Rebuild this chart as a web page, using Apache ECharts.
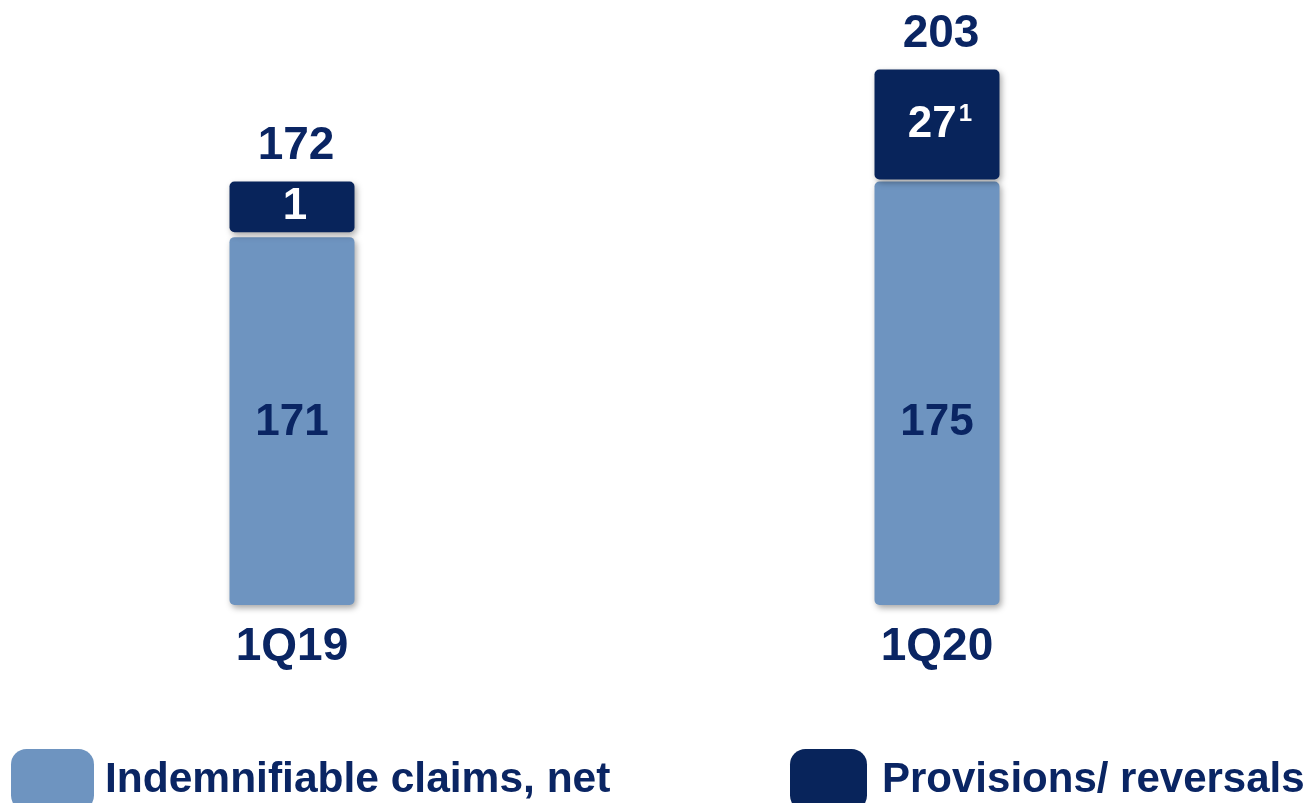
<!DOCTYPE html>
<html>
<head>
<meta charset="utf-8">
<script src="https://cdn.jsdelivr.net/npm/echarts@6/dist/echarts.min.js"></script>
<style>
  html, body { margin: 0; padding: 0; background: #ffffff; }
  #chart { width: 1316px; height: 803px; }
</style>
</head>
<body>
<div id="chart"></div>
<script>
// ---- data ----
const categories = ['1Q19', '1Q20'];
const seriesNames = ['Indemnifiable claims, net', 'Provisions/ reversals'];
// printed values
const claimsValues = [171, 175];
const provisionsValues = [1, 27];
const totalValues = [172, 203];
const provisionsFootnote = ['', '1'];
// segment lengths as drawn in the source slide (the slide is not to scale)
const claimsDrawn = [152, 175];
const provisionsDrawn = [21, 45.5];

// ---- styling ----
const FONT = 'Liberation Sans, Arial, sans-serif';
const TEXT = '#0a2563';
const LIGHT = '#6e94c0';
const DARK = '#08245b';
const GAP = [2, 0.8]; // white gap between stacked segments (axis units)

const shadow = {
  shadowColor: 'rgba(0,0,0,0.35)',
  shadowBlur: 6,
  shadowOffsetX: 2,
  shadowOffsetY: 3
};

const chart = echarts.init(document.getElementById('chart'), null, { renderer: 'canvas' });

const option = {
  animation: false,
  backgroundColor: '#ffffff',
  grid: { left: 292, right: 379, top: 0, bottom: 198, containLabel: false },
  xAxis: {
    type: 'category',
    data: categories,
    boundaryGap: false,
    axisLine: { show: false },
    axisTick: { show: false },
    splitLine: { show: false },
    axisLabel: {
      margin: 19,
      fontFamily: FONT,
      fontWeight: 'bold',
      fontSize: 46,
      lineHeight: 46,
      color: TEXT
    }
  },
  yAxis: {
    type: 'value',
    min: 0,
    max: 250,
    show: false,
    splitLine: { show: false }
  },
  legend: [
    {
      data: [seriesNames[0]],
      left: 11,
      top: 749,
      padding: 0,
      icon: 'roundRect',
      itemWidth: 83,
      itemHeight: 62,
      textStyle: {
        fontFamily: FONT,
        fontWeight: 'bold',
        fontSize: 42.5,
        color: TEXT,
        padding: [0, 0, 0, 6]
      },
      selectedMode: false
    },
    {
      data: [seriesNames[1]],
      left: 790,
      top: 749,
      padding: 0,
      icon: 'roundRect',
      itemWidth: 77,
      itemHeight: 62,
      textStyle: {
        fontFamily: FONT,
        fontWeight: 'bold',
        fontSize: 42,
        color: TEXT,
        padding: [0, 0, 0, 10]
      },
      selectedMode: false
    }
  ],
  series: [
    {
      name: seriesNames[0],
      type: 'bar',
      stack: 'total',
      barWidth: 125,
      clip: false,
      data: claimsDrawn.map((v, i) => ({ value: v, printed: claimsValues[i] })),
      itemStyle: Object.assign({ color: LIGHT, borderRadius: 5 }, shadow),
      label: {
        show: true,
        position: 'insideBottom',
        distance: 160,
        formatter: (p) => String(claimsValues[p.dataIndex]),
        fontFamily: FONT,
        fontWeight: 'bold',
        fontSize: 44,
        lineHeight: 44,
        color: TEXT
      }
    },
    {
      name: 'gap',
      type: 'bar',
      stack: 'total',
      barWidth: 125,
      clip: false,
      data: GAP,
      itemStyle: { color: 'rgba(0,0,0,0)' },
      label: { show: false },
      silent: true
    },
    {
      name: seriesNames[1],
      type: 'bar',
      stack: 'total',
      barWidth: 125,
      clip: false,
      data: provisionsDrawn,
      itemStyle: Object.assign({ color: DARK, borderRadius: 5 }, shadow),
      label: {
        show: true,
        position: 'inside',
        offset: [3, 0],
        formatter: (p) => String(provisionsValues[p.dataIndex]) +
          (provisionsFootnote[p.dataIndex] ? '{s|' + provisionsFootnote[p.dataIndex] + '}' : ''),
        fontFamily: FONT,
        fontWeight: 'bold',
        fontSize: 44,
        lineHeight: 44,
        color: '#ffffff',
        rich: {
          s: {
            fontFamily: FONT,
            fontWeight: 'bold',
            fontSize: 24,
            lineHeight: 44,
            color: '#ffffff',
            verticalAlign: 'top',
            padding: [0, 0, 14, 2]
          }
        }
      }
    },
    {
      name: 'total',
      type: 'bar',
      stack: 'total',
      barWidth: 125,
      clip: false,
      data: totalValues.map(() => 0),
      itemStyle: { color: 'rgba(0,0,0,0)' },
      silent: true,
      label: {
        show: true,
        position: 'top',
        distance: 12,
        offset: [4, 0],
        formatter: (p) => String(totalValues[p.dataIndex]),
        fontFamily: FONT,
        fontWeight: 'bold',
        fontSize: 46,
        lineHeight: 46,
        color: TEXT
      }
    }
  ]
};

chart.setOption(option);
</script>
</body>
</html>
